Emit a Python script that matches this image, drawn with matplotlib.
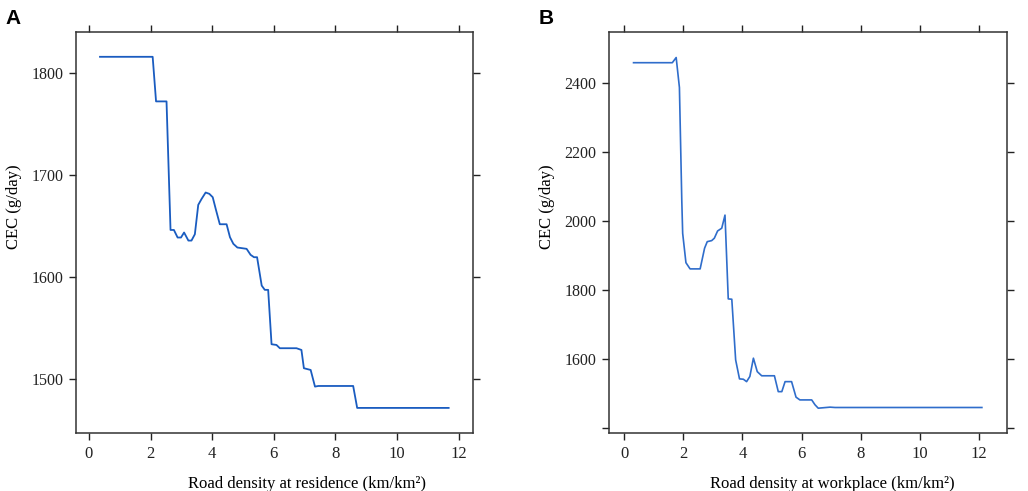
import matplotlib
matplotlib.use("Agg")
import matplotlib.pyplot as plt

plt.rcParams["font.family"] = ["Liberation Serif", "DejaVu Serif"]

# panel A: road density at residence
res_x = [0.36, 2.07, 2.18, 2.52, 2.65, 2.76, 2.88, 2.99, 3.09, 3.23, 3.33, 3.44,
         3.55, 3.66, 3.79, 3.91, 4.02, 4.12, 4.25, 4.47, 4.58, 4.69, 4.82, 5.12,
         5.25, 5.36, 5.46, 5.61, 5.71, 5.82, 5.93, 6.09, 6.20, 6.74, 6.90, 6.98,
         7.20, 7.34, 7.45, 8.58, 8.71, 11.68]
res_y = [1815.7, 1815.7, 1772, 1772, 1646, 1646, 1638.6, 1638.6, 1643.5, 1635.6,
         1635.6, 1641.8, 1670.6, 1676.5, 1682.7, 1681.4, 1678.1, 1666.3, 1651.6,
         1651.6, 1638.9, 1632.4, 1628.8, 1627.5, 1621.6, 1619.3, 1619.3, 1591.5,
         1587.3, 1587.3, 1534, 1533.3, 1530.1, 1530.1, 1528.4, 1510.5, 1508.8,
         1492.5, 1493.1, 1493.1, 1471.6, 1471.6]

# panel B: road density at workplace
work_x = [0.32, 1.63, 1.76, 1.87, 1.95, 1.98, 2.09, 2.23, 2.57, 2.72, 2.81, 2.96,
          3.05, 3.16, 3.30, 3.41, 3.52, 3.64, 3.77, 3.90, 4.03, 4.14, 4.25, 4.37,
          4.50, 4.65, 5.08, 5.21, 5.33, 5.44, 5.66, 5.81, 5.94, 6.34, 6.45, 6.56,
          6.96, 7.13, 12.09]
work_y = [2460, 2460, 2475, 2388, 2060, 1965, 1880, 1862, 1862, 1922, 1941, 1944,
          1951, 1972, 1980, 2018, 1775, 1774, 1598, 1543, 1542, 1535, 1550, 1603,
          1564, 1552, 1552, 1506, 1506, 1535, 1535, 1490, 1482, 1482, 1468, 1458,
          1461, 1460, 1460]

x_ticks = [0, 2, 4, 6, 8, 10, 12]
a_yticks = [1500, 1600, 1700, 1800]
b_yticks = [1400, 1600, 1800, 2000, 2200, 2400]
b_ylabels = ["", "1600", "1800", "2000", "2200", "2400"]


def style(ax):
    ax.tick_params(direction="out", length=5, width=1, top=True, right=True,
                   labelsize=11.5, colors="#222222", pad=4)
    ax.tick_params(axis="x", labelsize=12, pad=4)
    for s in ax.spines.values():
        s.set_linewidth(1.1)
        s.set_color("#333333")


fig = plt.figure(figsize=(10.28, 4.91), dpi=100)

ax1 = fig.add_axes([0.0739, 0.1181, 0.3862, 0.8167])
ax1.plot(res_x, res_y, color="#1a5cc0", lw=1.3)
ax1.set_xlim(-0.42, 12.47)
ax1.set_ylim(1447, 1840)
ax1.set_xticks(x_ticks)
ax1.set_yticks(a_yticks)
ax1.set_xlabel("Road density at residence (km/km²)", fontsize=12, labelpad=7)
ax1.set_ylabel("CEC (g/day)", fontsize=12, labelpad=7)
ax1.xaxis.set_label_coords(0.582, -0.108)
ax1.yaxis.label.set_y(0.564)
style(ax1)

ax2 = fig.add_axes([0.5924, 0.1181, 0.3872, 0.8167])
ax2.plot(work_x, work_y, color="#2f6dcb", lw=1.2)
ax2.set_xlim(-0.51, 12.94)
ax2.set_ylim(1386, 2549)
ax2.set_xticks(x_ticks)
ax2.set_yticks(b_yticks)
ax2.set_yticklabels(b_ylabels)
ax2.set_xlabel("Road density at workplace (km/km²)", fontsize=12, labelpad=7)
ax2.set_ylabel("CEC (g/day)", fontsize=12, labelpad=7)
ax2.xaxis.set_label_coords(0.560, -0.108)
ax2.yaxis.label.set_y(0.564)
style(ax2)

fig.text(0.005, 0.952, "A", family="Liberation Sans", weight="bold", fontsize=15)
fig.text(0.524, 0.952, "B", family="Liberation Sans", weight="bold", fontsize=15)

fig.savefig("out.png", dpi=100)
